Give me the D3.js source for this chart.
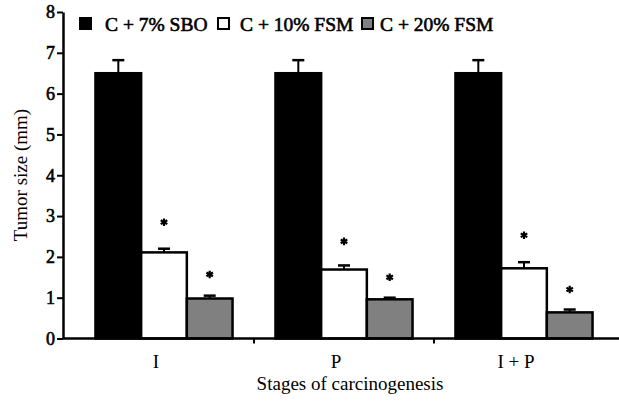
<!DOCTYPE html>
<html>
<head>
<meta charset="utf-8">
<script src="https://cdn.jsdelivr.net/npm/d3@7"></script>
<style>
  body { margin: 0; background: #fff; }
  svg { display: block; font-family: "Liberation Serif", "Times New Roman", serif; }
  svg text { font-family: "Liberation Serif", "Times New Roman", serif; fill: #000; }
</style>
</head>
<body>
<div id="chart"></div>
<script>
// categories and series
const stages = ["I", "P", "I + P"];
const series = ["C + 7% SBO", "C + 10% FSM", "C + 20% FSM"];
const seriesColors = ["#000000", "#ffffff", "#808080"];

// mean tumour size (mm), per series, one value per stage
const sbo7 = [6.5, 6.5, 6.5];
const fsm10 = [2.11, 1.69, 1.72];
const fsm20 = [0.98, 0.96, 0.64];

// top of error bar (mean + SE)
const sbo7Err = [6.82, 6.82, 6.82];
const fsm10Err = [2.2, 1.79, 1.87];
const fsm20Err = [1.05, 1.0, 0.71];

// position of significance stars (null = no star)
const sbo7Star = [null, null, null];
const fsm10Star = [2.85, 2.38, 2.53];
const fsm20Star = [1.57, 1.5, 1.2];

const yTicks = [0, 1, 2, 3, 4, 5, 6, 7, 8];

const width = 619, height = 404;
const margin = { top: 12, right: 0, bottom: 65, left: 63 };

// build rows
const means = [sbo7, fsm10, fsm20];
const errs = [sbo7Err, fsm10Err, fsm20Err];
const stars = [sbo7Star, fsm10Star, fsm20Star];
const rows = [];
stages.forEach((st, i) => {
  series.forEach((s, j) => {
    rows.push({ stage: st, serie: s, idx: j, value: means[j][i], err: errs[j][i], star: stars[j][i] });
  });
});

const svg = d3.select("#chart").append("svg")
  .attr("width", width)
  .attr("height", height);

// scales
const y = d3.scaleLinear()
  .domain([0, 8])
  .range([338.5, margin.top]);

const x0 = d3.scaleBand()
  .domain(stages)
  .range([74, 614])
  .paddingInner(0)
  .paddingOuter(0);

const x1 = d3.scaleBand()
  .domain(series)
  .range([0, x0.bandwidth()])
  .paddingInner(0)
  .paddingOuter(0.47);

const color = d3.scaleOrdinal().domain(series).range(seriesColors);

// bars
const groups = svg.append("g").selectAll("g")
  .data(stages)
  .join("g")
  .attr("transform", d => `translate(${x0(d)},0)`);

const bar = groups.selectAll("g")
  .data(st => rows.filter(r => r.stage === st))
  .join("g");

// error bars (drawn first, bar covers the lower half)
bar.append("line")
  .attr("x1", d => x1(d.serie) + x1.bandwidth() / 2)
  .attr("x2", d => x1(d.serie) + x1.bandwidth() / 2)
  .attr("y1", d => y(d.value))
  .attr("y2", d => y(d.err))
  .attr("stroke", "#000")
  .attr("stroke-width", 2);

bar.append("line")
  .attr("x1", d => x1(d.serie) + x1.bandwidth() / 2 - 6)
  .attr("x2", d => x1(d.serie) + x1.bandwidth() / 2 + 6)
  .attr("y1", d => y(d.err))
  .attr("y2", d => y(d.err))
  .attr("stroke", "#000")
  .attr("stroke-width", 2.5);

bar.append("rect")
  .attr("x", d => x1(d.serie))
  .attr("y", d => y(d.value))
  .attr("width", x1.bandwidth())
  .attr("height", d => y(0) - y(d.value))
  .attr("fill", d => color(d.serie))
  .attr("stroke", "#000")
  .attr("stroke-width", 2.5);

// significance stars
bar.filter(d => d.star != null)
  .append("path")
  .attr("transform", d => `translate(${x1(d.serie) + x1.bandwidth() / 2},${y(d.star)})`)
  .attr("d", d3.symbol(d3.symbolAsterisk, 40))
  .attr("stroke", "#000")
  .attr("stroke-width", 2.2)
  .attr("fill", "#000");

// y axis
const yAxis = svg.append("g")
  .attr("transform", `translate(${margin.left},0)`)
  .call(d3.axisLeft(y).tickValues(yTicks).tickSize(6).tickSizeOuter(0).tickPadding(2));
yAxis.attr("font-family", null);
yAxis.select(".domain").attr("stroke-width", 2.5);
yAxis.selectAll(".tick line").attr("stroke-width", 2);
yAxis.selectAll(".tick text")
  .style("font-size", "18px")
  .attr("stroke", "#000")
  .attr("stroke-width", 0.6);

// x axis: baseline with ticks between stages
const xAxis = svg.append("g")
  .attr("transform", `translate(0,${y(0)})`);
xAxis.append("line")
  .attr("x1", margin.left)
  .attr("x2", width)
  .attr("stroke", "#000")
  .attr("stroke-width", 2.5);
xAxis.selectAll(".sep")
  .data(stages.slice(1))
  .join("line")
  .attr("class", "sep")
  .attr("x1", d => x0(d))
  .attr("x2", d => x0(d))
  .attr("y1", 0)
  .attr("y2", 5)
  .attr("stroke", "#000")
  .attr("stroke-width", 2);
xAxis.selectAll(".cat")
  .data(stages)
  .join("text")
  .attr("class", "cat")
  .attr("x", d => x0(d) + x0.bandwidth() / 2 - 8)
  .attr("y", 29)
  .attr("text-anchor", "middle")
  .style("font-size", "19px")
  .text(d => d);

// axis titles
svg.append("text")
  .attr("x", 350)
  .attr("y", 390)
  .attr("text-anchor", "middle")
  .style("font-size", "19px")
  .text("Stages of carcinogenesis");

svg.append("text")
  .attr("transform", "translate(27,175) rotate(-90)")
  .attr("text-anchor", "middle")
  .style("font-size", "19px")
  .text("Tumor size (mm)");

// legend (swatch and label x positions as in the original layout)
const legendSwatchX = [79, 217, 361];
const legendTextX = [105, 240, 380];
const legend = svg.append("g");
series.forEach((s, j) => {
  legend.append("rect")
    .attr("x", legendSwatchX[j] + 1)
    .attr("y", 18)
    .attr("width", 11)
    .attr("height", 11)
    .attr("fill", color(s))
    .attr("stroke", "#000")
    .attr("stroke-width", 2);
  legend.append("text")
    .attr("x", legendTextX[j])
    .attr("y", 31)
    .style("font-size", "19.5px")
    .attr("stroke", "#000")
    .attr("stroke-width", 0.6)
    .text(s);
});
</script>
</body>
</html>
